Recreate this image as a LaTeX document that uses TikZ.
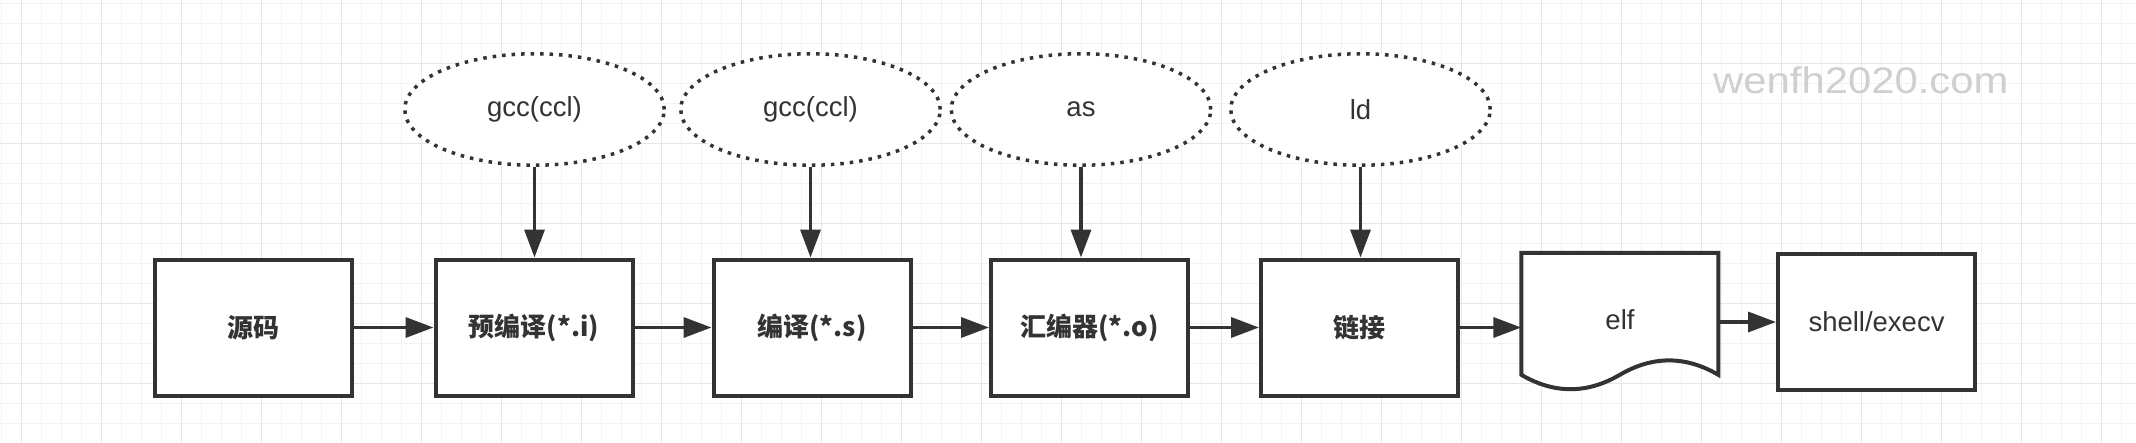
\documentclass[tikz,border=0pt]{standalone}
\usepackage{fontspec}
\setmainfont{Liberation Sans}
\newfontfamily\cjk{Noto Sans CJK SC}
\usetikzlibrary{arrows.meta,shapes.geometric,calc}
\definecolor{ink}{HTML}{333333}
\definecolor{gridminor}{HTML}{F3F3F3}
\definecolor{gridmajor}{HTML}{E6E6E6}
\definecolor{wmark}{HTML}{CFCFCF}
\pgfdeclarelayer{bg}
\pgfdeclarelayer{mid}
\pgfsetlayers{bg,mid,main}
\begin{document}
\begin{tikzpicture}[x=1pt,y=-1pt,
  stepbox/.style={draw=ink, line width=4pt, fill=white, minimum width=197pt, minimum height=136pt, inner sep=0pt, font=\cjk\bfseries\fontsize{26}{30}\selectfont, text=ink},
  tool/.style={ellipse, draw=ink, line width=3.5pt, dash pattern=on 3.5pt off 6pt, fill=white, minimum width=259.5pt, minimum height=111.5pt, inner sep=0pt, font=\fontsize{27.5}{32}\selectfont, text=ink},
  plain/.style={draw=none, inner sep=0pt, font=\fontsize{27.5}{32}\selectfont, text=ink},
  flow/.style={draw=ink, line width=3.5pt, -{Triangle[length=28pt,width=20pt]}},
  docline/.style={draw=ink, line width=4pt, fill=white},
]
\useasboundingbox (0,0) rectangle (2136,442);
\begin{pgfonlayer}{bg}
  \fill[white] (0,0) rectangle (2136,442);
  \foreach \x in {1.7,21.7,...,2136} \draw[gridminor, line width=1pt] (\x,0) -- (\x,442);
  \foreach \y in {3.3,23.3,...,442} \draw[gridminor, line width=1pt] (0,\y) -- (2136,\y);
  \foreach \x in {21.7,101.7,...,2136} \draw[gridmajor, line width=1.5pt] (\x,0) -- (\x,442);
  \foreach \y in {63.3,143.3,...,442} \draw[gridmajor, line width=1.5pt] (0,\y) -- (2136,\y);
\end{pgfonlayer}

\node[text=wmark, inner sep=0pt, anchor=base west, font=\fontsize{37}{40}\selectfont] (wm) at (1713,93) {\scalebox{1.13}[1]{wenfh2020.com}};

\node[tool] (e1) at (534.5,109.5) {gcc(ccl)};
\node[tool] (e2) at (810.5,109.5) {gcc(ccl)};
\node[tool] (e3) at (1081,109.5) {as};
\node[tool] (e4) at (1360.5,109.5) {ld};

\node[stepbox] (src) at (253.5,327.5) {源码};
\node[stepbox] (pre) at (534,327.5) {预编译(*.i)};
\node[stepbox] (comp) at (812,327.5) {编译(*.s)};
\node[stepbox] (asm) at (1089.5,327.5) {汇编器(*.o)};
\node[stepbox] (link) at (1359.5,327.5) {链接};
\node[plain, minimum width=197pt, minimum height=138pt] (elf) at (1620,322) {\raisebox{4pt}{elf}};
\node[stepbox, font=\fontsize{27.5}{32}\selectfont] (shell) at (1876.5,322) {shell/execv};

\begin{pgfonlayer}{mid}
  \draw[docline, shift={(elf.north west)}] (0,0) -- (197,0) -- (197,122)
    .. controls (164.17,102.8) and (131.33,102.8) .. (98.5,122)
    .. controls (65.67,141.2) and (32.83,141.2) .. (0,122) -- cycle;
\end{pgfonlayer}

\draw[flow] (e1.south) -- (e1.south |- pre.north);
\draw[flow] (e2.south) -- (e2.south |- comp.north);
\draw[flow] (e3.south) -- (e3.south |- asm.north);
\draw[flow] (e4.south) -- (e4.south |- link.north);

\draw[flow] (src.east) -- (pre.west);
\draw[flow] (pre.east) -- (comp.west);
\draw[flow] (comp.east) -- (asm.west);
\draw[flow] (asm.east) -- (link.west);
\draw[flow] (link.east) -- (link.east -| elf.west);
\draw[flow] (elf.east) -- (shell.west);
\end{tikzpicture}
\end{document}
